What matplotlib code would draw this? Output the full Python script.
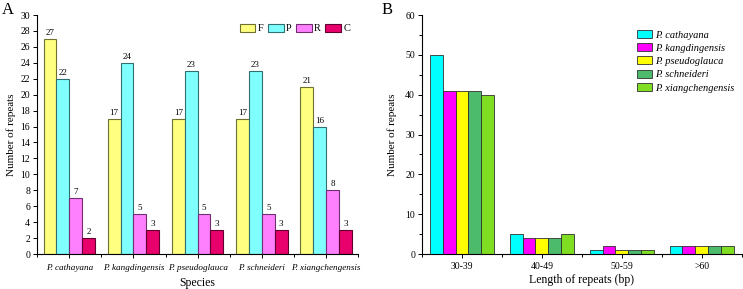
import numpy as np
import matplotlib.pyplot as plt
from matplotlib.ticker import MultipleLocator

plt.rcParams['font.family'] = ['Liberation Serif', 'DejaVu Serif']

# panel A data
species = ["P. cathayana", "P. kangdingensis", "P. pseudoglauca", "P. schneideri", "P. xiangchengensis"]
repeat_types = ["F", "P", "R", "C"]
F = [27, 17, 17, 17, 21]
P = [22, 24, 23, 23, 16]
R = [7, 5, 5, 5, 8]
C = [2, 3, 3, 3, 3]

# panel B data
length_bins = ["30-39", "40-49", "50-59", ">60"]
cathayana = [50, 5, 1, 2]
kangdingensis = [41, 4, 2, 2]
pseudoglauca = [41, 4, 1, 2]
schneideri = [41, 4, 1, 2]
xiangchengensis = [40, 5, 1, 2]

fig = plt.figure(figsize=(7.43, 2.89), dpi=100)
axA = fig.add_axes([0.050, 0.121, 0.432, 0.827])
axB = fig.add_axes([0.568, 0.121, 0.430, 0.827])

# ---- A ----
colsA = ["#ffff80", "#80ffff", "#ff80ff", "#e8006c"]
edgeA = ["#707030", "#307070", "#703070", "#600030"]
x = np.arange(len(species))
w = 0.2
for i, (vals, c, e, lab) in enumerate(zip([F, P, R, C], colsA, edgeA, repeat_types)):
    bars = axA.bar(x + (i - 1.5) * w, vals, w, color=c, edgecolor=e, linewidth=0.8, label=lab)
    for b, v in zip(bars, vals):
        axA.text(b.get_x() + b.get_width() / 2, v + 0.25, str(v), ha='center', va='bottom', fontsize=6.5)

axA.set_xlim(-0.5, 4.5)
axA.set_ylim(0, 30)
axA.yaxis.set_major_locator(MultipleLocator(2))
axA.set_xticks(x)
axA.set_xticklabels(species, fontstyle='italic')
axA.set_xticks(np.arange(-0.5, 5, 1), minor=True)
axA.tick_params(axis='both', labelsize=7, length=3, width=0.7, pad=2)
axA.tick_params(axis='x', pad=4, labelsize=6.6)
axA.tick_params(axis='x', which='minor', length=2, width=0.7)
axA.set_xlabel("Species", fontsize=8.5, labelpad=4)
axA.set_ylabel("Number of repeats", fontsize=8, labelpad=3)
for s in ['top', 'right']:
    axA.spines[s].set_visible(False)
for s in ['left', 'bottom']:
    axA.spines[s].set_linewidth(0.8)
axA.legend(loc='upper right', ncol=4, fontsize=7.5, frameon=False, handlelength=1.5, handleheight=0.8,
           handletextpad=0.25, columnspacing=0.4, borderaxespad=0.2, bbox_to_anchor=(0.995, 0.99))
fig.text(0.003, 0.953, "A", fontsize=12)

# ---- B ----
colsB = ["#00ffff", "#ff00ff", "#ffff00", "#4cbb6c", "#7fdd22"]
namesB = ["P. cathayana", "P. kangdingensis", "P. pseudoglauca", "P. schneideri", "P. xiangchengensis"]
xb = np.arange(len(length_bins))
wb = 0.16
for i, (vals, c, lab) in enumerate(zip([cathayana, kangdingensis, pseudoglauca, schneideri, xiangchengensis], colsB, namesB)):
    axB.bar(xb + (i - 2) * wb, vals, wb, color=c, edgecolor="#303030", linewidth=0.6, label=lab)

axB.set_xlim(-0.5, 3.5)
axB.set_ylim(0, 60)
axB.yaxis.set_major_locator(MultipleLocator(10))
axB.yaxis.set_minor_locator(MultipleLocator(5))
axB.set_xticks(xb)
axB.set_xticklabels(length_bins)
axB.set_xticks(np.arange(-0.5, 4, 1), minor=True)
axB.tick_params(axis='both', labelsize=7, length=3, width=0.7, pad=2)
axB.tick_params(axis='x', pad=3)
axB.tick_params(axis='both', which='minor', length=2, width=0.7)
axB.set_xlabel("Length of repeats (bp)", fontsize=8.5, labelpad=2)
axB.set_ylabel("Number of repeats", fontsize=8, labelpad=6)
for s in ['top', 'right']:
    axB.spines[s].set_visible(False)
for s in ['left', 'bottom']:
    axB.spines[s].set_linewidth(0.8)
legB = axB.legend(loc='upper left', fontsize=7.5, frameon=False, handlelength=1.4, handleheight=0.8,
                  handletextpad=0.3, labelspacing=0.35, borderaxespad=0, bbox_to_anchor=(0.66, 0.955))
for t in legB.get_texts():
    t.set_fontstyle('italic')
fig.text(0.513, 0.953, "B", fontsize=12)

fig.savefig("out.png", dpi=100)
